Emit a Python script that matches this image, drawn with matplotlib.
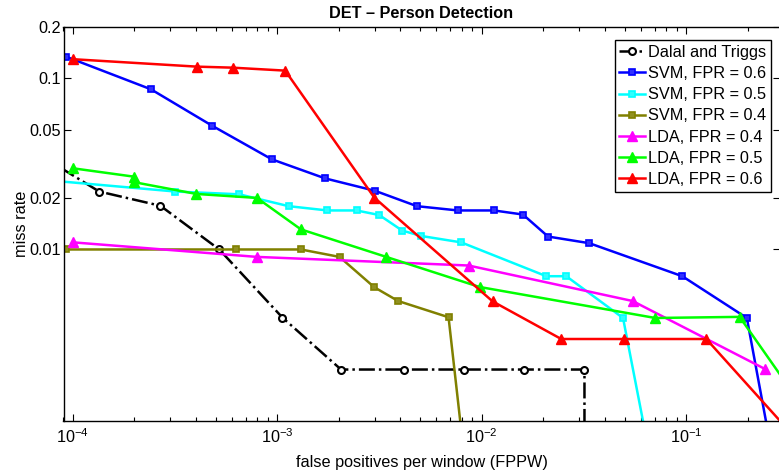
import matplotlib
matplotlib.use("Agg")
import matplotlib.pyplot as plt
from matplotlib.ticker import FixedLocator, FixedFormatter, LogLocator, NullFormatter

plt.rcParams["font.family"] = ["Liberation Sans", "DejaVu Sans"]
plt.rcParams["mathtext.fontset"] = "custom"
plt.rcParams["mathtext.rm"] = "Liberation Sans"
plt.rcParams["mathtext.it"] = "Liberation Sans:italic"
font_size = 11.7

# Dalal and Triggs baseline
dt_fppw = [8.67e-5, 1.345e-4, 2.68e-4, 5.20e-4, 1.06e-3, 2.05e-3, 4.18e-3, 8.15e-3, 0.0161, 0.0318, 0.0318]
dt_miss = [0.0301, 0.0218, 0.0180, 0.0100, 0.0040, 0.00199, 0.00199, 0.00199, 0.00199, 0.00199, 0.0005]

# SVM curves
svm06_fppw = [9.24e-5, 2.41e-4, 4.80e-4, 9.41e-4, 1.715e-3, 3.01e-3, 4.82e-3, 7.65e-3, 0.01147, 0.0159,
              0.0211, 0.0336, 0.0957, 0.198, 0.254]
svm06_miss = [0.1338, 0.0862, 0.0528, 0.0336, 0.0260, 0.0220, 0.0179, 0.0169, 0.0169, 0.0160,
              0.0119, 0.01088, 0.00698, 0.00398, 0.0008]
svm05_fppw = [8.0e-5, 3.17e-4, 6.51e-4, 1.137e-3, 1.76e-3, 2.44e-3, 3.15e-3, 4.08e-3, 5.04e-3, 7.94e-3,
              0.0207, 0.0259, 0.0491, 0.0637]
svm05_miss = [0.0252, 0.0218, 0.0210, 0.0179, 0.0169, 0.0169, 0.0159, 0.0129, 0.0120, 0.0110,
              0.00698, 0.00698, 0.00398, 0.0008]
svm04_fppw = [9.27e-5, 6.27e-4, 1.305e-3, 2.015e-3, 2.98e-3, 3.90e-3, 6.88e-3, 8.01e-3]
svm04_miss = [0.0100, 0.0100, 0.0100, 0.00905, 0.00602, 0.0050, 0.00402, 0.0008]

# LDA curves
lda04_fppw = [1.007e-4, 7.95e-4, 8.62e-3, 0.0547, 0.2418]
lda04_miss = [0.0110, 0.00905, 0.00806, 0.0050, 0.00201]
lda05_fppw = [1.0e-4, 2.0e-4, 2.0e-4, 4.02e-4, 7.95e-4, 1.305e-3, 3.41e-3, 9.75e-3, 0.0706, 0.1825, 0.3616]
lda05_miss = [0.0298, 0.0266, 0.0247, 0.0211, 0.0200, 0.0131, 0.00905, 0.00604, 0.00398, 0.00404, 0.00126]
lda06_fppw = [1.0e-4, 4.04e-4, 6.04e-4, 1.093e-3, 2.98e-3, 0.01129, 0.02448, 0.0494, 0.1254, 0.2952]
lda06_miss = [0.1292, 0.1169, 0.1153, 0.1108, 0.0201, 0.00498, 0.0030, 0.0030, 0.0030, 0.000964]

y_ticks = [0.01, 0.02, 0.05, 0.1, 0.2]
y_tick_labels = ["0.01", "0.02", "0.05", "0.1", "0.2"]

fig = plt.figure(figsize=(7.79, 4.75), dpi=100)
ax = fig.add_axes([63.5 / 779, 1 - 420.7 / 475, (779.5 - 63.5) / 779, (420.7 - 26.7) / 475])

ax.plot(dt_fppw, dt_miss, '-.', color='black', lw=1.8, marker='o', ms=5, mfc='white', mec='black', mew=1.5,
        label='Dalal and Triggs')
ax.plot(svm06_fppw, svm06_miss, '-', color='#0000ff', lw=1.8, marker='s', ms=4.5, mfc='#3030ff', mec='#0000ff',
        mew=1.2, label='SVM, FPR = 0.6')
ax.plot(svm05_fppw, svm05_miss, '-', color='#00ffff', lw=1.8, marker='s', ms=4.5, mfc='#30ffff', mec='#00ffff',
        mew=1.2, label='SVM, FPR = 0.5')
ax.plot(svm04_fppw, svm04_miss, '-', color='#808000', lw=1.8, marker='s', ms=4.5, mfc='#909020', mec='#808000',
        mew=1.2, label='SVM, FPR = 0.4')
ax.plot(lda04_fppw, lda04_miss, '-', color='#ff00ff', lw=1.8, marker='^', ms=7, mfc='#ff00ff', mec='#ff00ff',
        label='LDA, FPR = 0.4')
ax.plot(lda05_fppw, lda05_miss, '-', color='#00ff00', lw=1.8, marker='^', ms=7, mfc='#00ff00', mec='#00ff00',
        label='LDA, FPR = 0.5')
ax.plot(lda06_fppw, lda06_miss, '-', color='#ff0000', lw=1.8, marker='^', ms=7, mfc='#ff0000', mec='#ff0000',
        label='LDA, FPR = 0.6')

ax.set_xscale('log')
ax.set_yscale('log')
ax.set_xlim(9.0e-5, 0.286)
ax.set_ylim(0.001, 0.2)

ax.yaxis.set_major_locator(FixedLocator(y_ticks))
ax.yaxis.set_major_formatter(FixedFormatter(y_tick_labels))
ax.yaxis.set_minor_locator(FixedLocator([]))
ax.xaxis.set_major_locator(LogLocator(base=10))
ax.xaxis.set_minor_locator(LogLocator(base=10, subs=range(2, 10)))
ax.xaxis.set_minor_formatter(NullFormatter())

ax.tick_params(which='both', direction='in', top=True, right=True, labelsize=font_size, width=0.8)
ax.tick_params(axis='y', which='major', length=5, pad=2)
ax.tick_params(axis='x', which='major', length=5, pad=5)
ax.tick_params(which='minor', length=3)
for s in ax.spines.values():
    s.set_linewidth(1.0)

ax.set_xlabel('false positives per window (FPPW)', fontsize=font_size, labelpad=6)
ax.set_ylabel('miss rate', fontsize=font_size, labelpad=0)
ax.set_title('DET \u2013 Person Detection', fontsize=font_size, fontweight='bold', pad=6)

leg = ax.legend(loc='upper right', bbox_to_anchor=(0.988, 0.966), fontsize=font_size, frameon=True,
                fancybox=False, edgecolor='black', framealpha=1, handlelength=1.55, handletextpad=0.2,
                borderpad=0.3, labelspacing=0.38, borderaxespad=0)
leg.get_frame().set_linewidth(1.0)

fig.savefig('out.png', dpi=100)
